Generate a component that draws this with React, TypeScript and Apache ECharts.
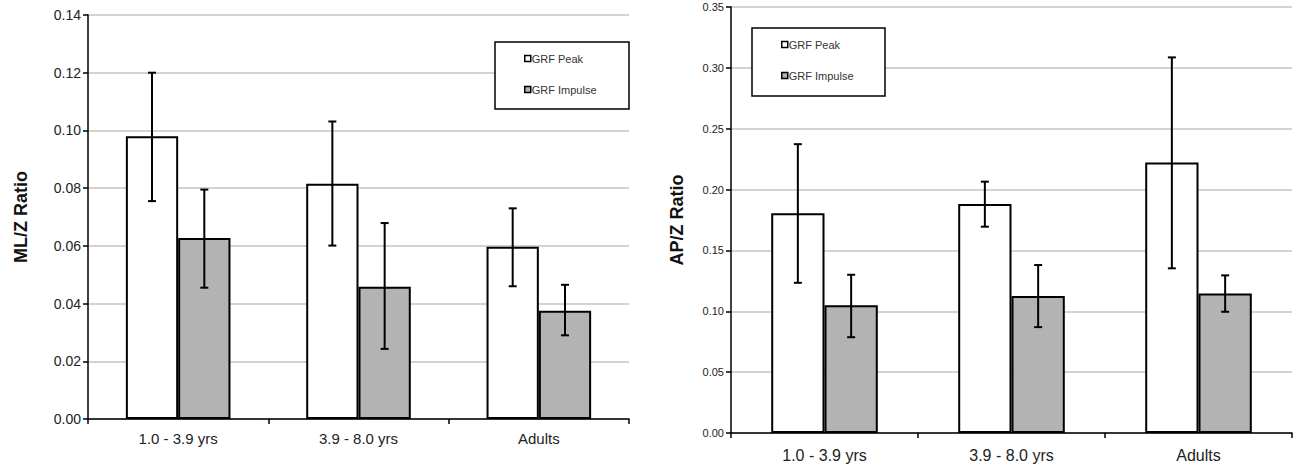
import React, { useEffect, useRef } from "react";
import * as echarts from "echarts";

const categories = ["1.0 - 3.9 yrs", "3.9 - 8.0 yrs", "Adults"];
const legendNames = ["GRF Peak", "GRF Impulse"];

const mlPeak = [0.098, 0.0815, 0.0597];
const mlPeakLow = [0.0755, 0.0601, 0.046];
const mlPeakHigh = [0.12, 0.1031, 0.073];
const mlImpulse = [0.0627, 0.0458, 0.0375];
const mlImpulseLow = [0.0455, 0.0243, 0.029];
const mlImpulseHigh = [0.0795, 0.0679, 0.0465];

const apPeak = [0.1805, 0.1882, 0.2222];
const apPeakLow = [0.1234, 0.1695, 0.1353];
const apPeakHigh = [0.2373, 0.2065, 0.3086];
const apImpulse = [0.105, 0.1125, 0.1147];
const apImpulseLow = [0.0787, 0.087, 0.0996];
const apImpulseHigh = [0.13, 0.138, 0.1295];

const FONT = 'Arial, "Liberation Sans", sans-serif';
const GRAY = "#b3b3b3";

function errData(low: number[], high: number[], s: number) {
  return low.map((l, i) => [i, l, high[i], s]);
}

function errSeries(idx: number, data: number[][], gapFrac: number) {
  return {
    type: "custom",
    xAxisIndex: idx,
    yAxisIndex: idx,
    z: 5,
    silent: true,
    data,
    renderItem: (params: any, api: any) => {
      const c = api.value(0);
      const lo = api.coord([c, api.value(1)]);
      const hi = api.coord([c, api.value(2)]);
      const catW = api.size([1, 0])[0];
      const bw = (catW * (1 - gapFrac)) / 2;
      const x = lo[0] + (api.value(3) === 0 ? -bw / 2 : bw / 2);
      const cap = 4;
      const st = { stroke: "#000", lineWidth: 2 };
      return {
        type: "group",
        children: [
          { type: "line", shape: { x1: x, y1: hi[1], x2: x, y2: lo[1] }, style: st },
          { type: "line", shape: { x1: x - cap, y1: hi[1], x2: x + cap, y2: hi[1] }, style: st },
          { type: "line", shape: { x1: x - cap, y1: lo[1], x2: x + cap, y2: lo[1] }, style: st },
        ],
      };
    },
  };
}

export default function App() {
  const ref = useRef<HTMLDivElement>(null);
  useEffect(() => {
    document.body.style.margin = "0";
    const chart = echarts.init(ref.current!, null, { renderer: "svg" });
    const barStyle = (color: string) => ({ color, borderColor: "#000", borderWidth: 2 });
    const yAxisCommon = (fontSize: number) => ({
      type: "value",
      axisLine: { show: true, lineStyle: { color: "#000", width: 1.5 } },
      axisTick: { show: true, length: 5, lineStyle: { color: "#000", width: 1.5 } },
      splitLine: { show: true, lineStyle: { color: "#c4c4c4", width: 1.5 } },
      axisLabel: {
        color: "#222",
        fontSize,
        fontFamily: FONT,
        margin: 7,
        formatter: (v: number) => v.toFixed(2),
      },
      nameLocation: "middle",
      nameTextStyle: { color: "#111", fontSize: 18, fontWeight: "bold", fontFamily: FONT },
    });
    const xAxisCommon = (fontSize: number, margin: number) => ({
      type: "category",
      data: categories,
      axisLine: { show: true, lineStyle: { color: "#000", width: 1.5 } },
      axisTick: { show: true, length: 5, lineStyle: { color: "#000", width: 1.5 } },
      axisLabel: { color: "#222", fontSize, fontFamily: FONT, margin },
    });
    const legendCommon = {
      orient: "vertical",
      icon: "rect",
      itemWidth: 6,
      itemHeight: 6,
      itemGap: 20,
      itemStyle: { borderWidth: 1.5, borderColor: "#000" },
      textStyle: { color: "#333", fontSize: 11, fontFamily: FONT, padding: [0, 0, 0, -4] },
      data: legendNames,
      padding: 0,
      z: 6,
    };
    chart.setOption({
      animation: false,
      grid: [
        { left: 88, top: 15, width: 541, height: 404 },
        { left: 731, top: 7, width: 561, height: 426 },
      ],
      xAxis: [
        { ...xAxisCommon(15, 12), gridIndex: 0 },
        { ...xAxisCommon(16, 14), gridIndex: 1 },
      ],
      yAxis: [
        { ...yAxisCommon(14), gridIndex: 0, min: 0, max: 0.14, interval: 0.02, name: "ML/Z Ratio", nameGap: 58 },
        { ...yAxisCommon(11), gridIndex: 1, min: 0, max: 0.35, interval: 0.05, name: "AP/Z Ratio", nameGap: 45 },
      ],
      legend: [
        { ...legendCommon, left: 524, top: 53 },
        { ...legendCommon, left: 781, top: 39 },
      ],
      graphic: [
        { type: "rect", z: 5, shape: { x: 495, y: 42, width: 134, height: 67 }, style: { fill: "#fff", stroke: "#000", lineWidth: 1.5 } },
        { type: "rect", z: 5, shape: { x: 752, y: 28, width: 133, height: 68 }, style: { fill: "#fff", stroke: "#000", lineWidth: 1.5 } },
      ],
      series: [
        { type: "bar", name: legendNames[0], xAxisIndex: 0, yAxisIndex: 0, data: mlPeak, barGap: "0%", barCategoryGap: "42%", itemStyle: barStyle("#fff") },
        { type: "bar", name: legendNames[1], xAxisIndex: 0, yAxisIndex: 0, data: mlImpulse, barGap: "0%", barCategoryGap: "42%", itemStyle: barStyle(GRAY) },
        { type: "bar", name: legendNames[0], xAxisIndex: 1, yAxisIndex: 1, data: apPeak, barGap: "0%", barCategoryGap: "43%", itemStyle: barStyle("#fff") },
        { type: "bar", name: legendNames[1], xAxisIndex: 1, yAxisIndex: 1, data: apImpulse, barGap: "0%", barCategoryGap: "43%", itemStyle: barStyle(GRAY) },
        errSeries(0, errData(mlPeakLow, mlPeakHigh, 0), 0.42),
        errSeries(0, errData(mlImpulseLow, mlImpulseHigh, 1), 0.42),
        errSeries(1, errData(apPeakLow, apPeakHigh, 0), 0.43),
        errSeries(1, errData(apImpulseLow, apImpulseHigh, 1), 0.43),
      ],
    });
    return () => chart.dispose();
  }, []);
  return <div ref={ref} style={{ width: 1296, height: 468 }} />;
}
